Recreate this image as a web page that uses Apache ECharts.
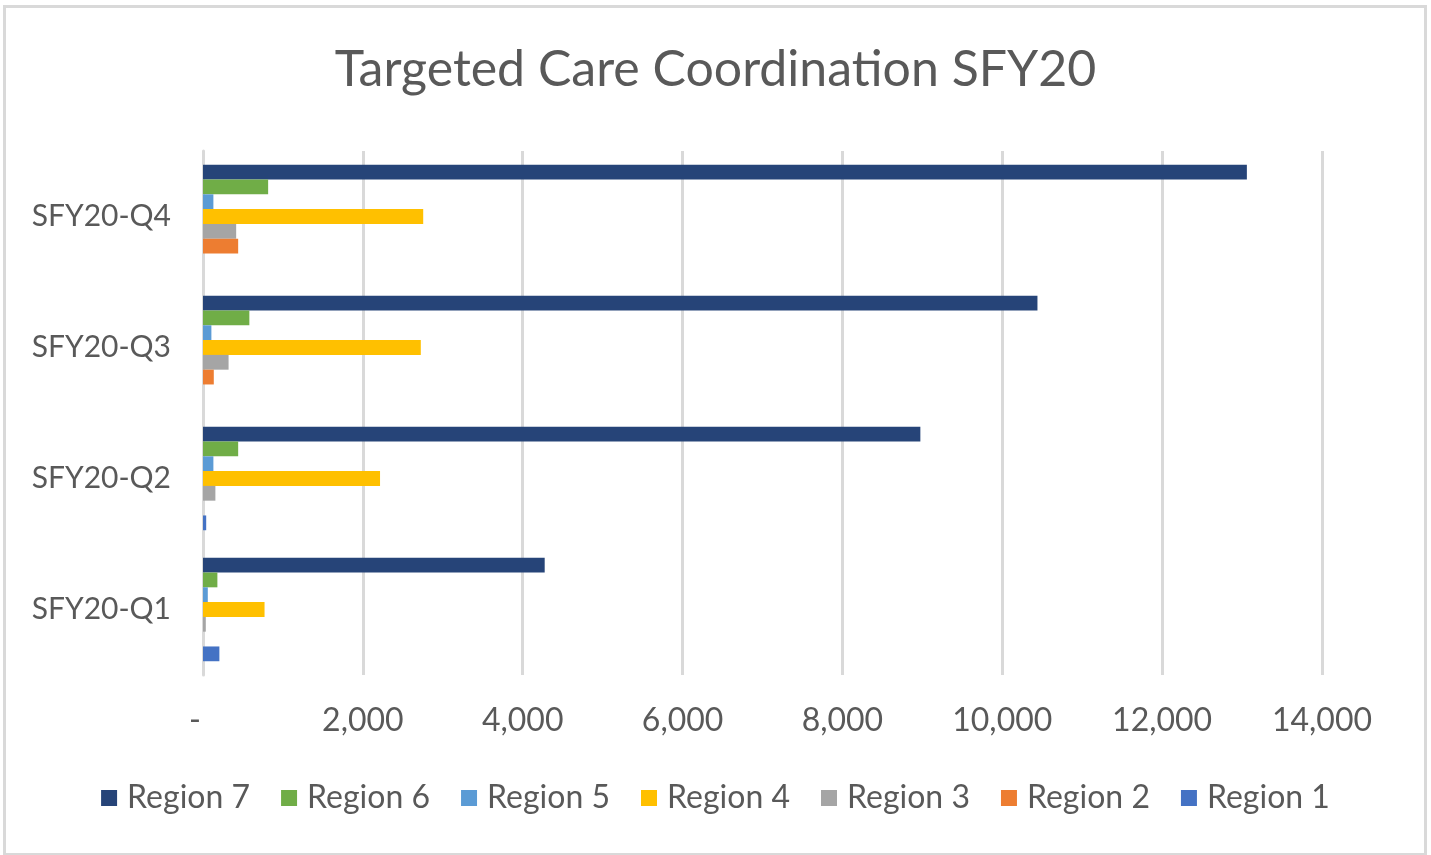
<!DOCTYPE html>
<html>
<head>
<meta charset="utf-8">
<script src="https://cdn.jsdelivr.net/npm/echarts@6/dist/echarts.min.js"></script>
<style>
html,body{margin:0;padding:0;background:#fff;}
#frame{position:absolute;left:3px;top:5px;width:1418px;height:845px;border:3px solid #D9D9D9;}
#chart{position:absolute;left:0;top:0;width:1431px;height:855px;}
</style>
</head>
<body>
<div id="frame"></div>
<div id="chart"></div>
<script>
const categories = ['SFY20-Q1', 'SFY20-Q2', 'SFY20-Q3', 'SFY20-Q4'];
const seriesNames = ['Region 7', 'Region 6', 'Region 5', 'Region 4', 'Region 3', 'Region 2', 'Region 1'];
const region7 = [4275, 8975, 10440, 13060];
const region6 = [180, 440, 580, 815];
const region5 = [60, 130, 105, 130];
const region4 = [770, 2215, 2725, 2755];
const region3 = [35, 155, 320, 415];
const region2 = [0, 0, 135, 440];
const region1 = [205, 40, 0, 0];
const xTicks = [0, 2000, 4000, 6000, 8000, 10000, 12000, 14000];
const colors = ['#264478', '#70AD47', '#5B9BD5', '#FFC000', '#A5A5A5', '#ED7D31', '#4472C4'];
const values = [region7, region6, region5, region4, region3, region2, region1];

const FONT = 'Lato';
const chart = echarts.init(document.getElementById('chart'), null, {renderer: 'canvas'});
const series = seriesNames.map((n, i) => ({
  name: n,
  type: 'bar',
  data: values[i],
  barGap: '0%',
  barCategoryGap: '21%',
  itemStyle: {color: colors[i]},
  emphasis: {disabled: true}
}));
chart.setOption({
  animation: false,
  backgroundColor: 'transparent',
  title: {
    text: 'Targeted Care Coordination SFY20',
    left: 'center',
    top: 40,
    textStyle: {fontFamily: FONT, fontSize: 50, fontWeight: 'normal', color: '#595959'}
  },
  legend: {
    data: seriesNames,
    bottom: 36,
    left: 'center',
    icon: 'rect',
    itemWidth: 16,
    itemHeight: 16,
    itemGap: 31,
    textStyle: {fontFamily: FONT, fontSize: 32, color: '#595959', padding: [0, 0, 0, 5]}
  },
  grid: {left: 203, right: 109, top: 151, bottom: 180, containLabel: false},
  xAxis: {
    type: 'value',
    min: 0,
    max: 14000,
    interval: 2000,
    axisLine: {show: false},
    axisTick: {show: false},
    splitLine: {lineStyle: {color: '#D9D9D9', width: 3}},
    axisLabel: {
      fontFamily: FONT, fontSize: 32, color: '#595959', margin: 30,
      formatter: v => v === 0 ? '{d|-}' : xTicks.includes(v) ? v.toLocaleString('en-US') : '',
      rich: {d: {fontFamily: FONT, fontSize: 32, color: '#595959', padding: [0, 16, 0, 0]}}
    }
  },
  yAxis: {
    type: 'category',
    data: categories,
    axisTick: {show: false},
    axisLine: {lineStyle: {color: '#D9D9D9', width: 3}},
    axisLabel: {fontFamily: FONT, fontSize: 30, color: '#595959', margin: 32}
  },
  series: series
});
</script>
</body>
</html>
